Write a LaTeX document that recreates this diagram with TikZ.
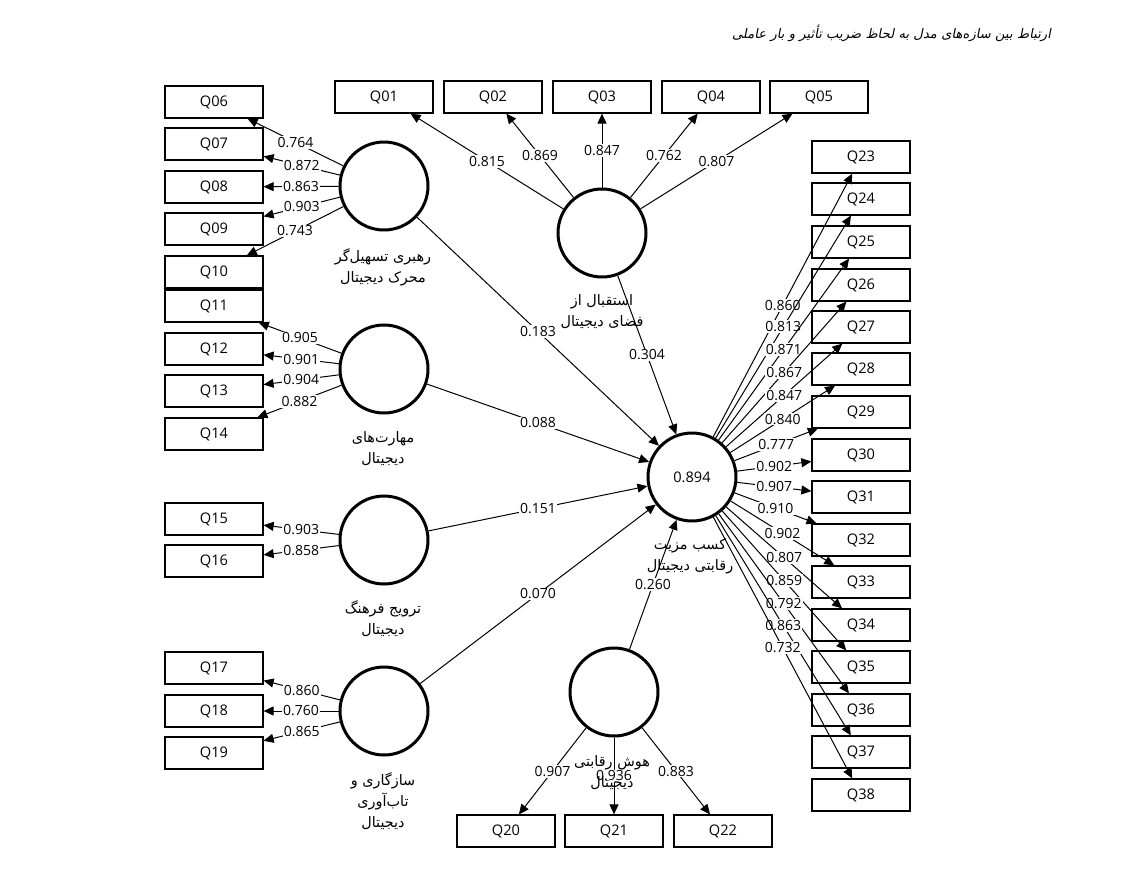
\documentclass[tikz,border=0pt]{standalone}
\usepackage{fontspec}
\setmainfont{Open Sans}
\newfontfamily\fafont[Script=Arabic]{DejaVu Sans}
\newfontfamily\titlefont[Script=Arabic,FakeSlant=0.2]{DejaVu Sans}
\TeXXeTstate=1
\usetikzlibrary{arrows.meta, positioning}

\newcommand{\fatext}[1]{\beginR #1\endR}

\tikzset{
  ind/.style={draw, line width=0.6pt, minimum width=49pt, minimum height=16pt, inner sep=0pt, font=\fontsize{7.3}{9}\selectfont},
  lat/.style={circle, draw, line width=1.5pt, minimum size=44pt, inner sep=0pt, font=\fontsize{7.3}{9}\selectfont},
  lbl/.style={align=center, font=\fafont\fontsize{7.2}{10.5}\selectfont},
  val/.style={fill=white, inner sep=0.6pt, font=\fontsize{7}{8}\selectfont},
}

\begin{document}
\begin{tikzpicture}[x=0.5pt, y=-0.5pt, >={Triangle[length=5pt,width=4.5pt]}]
    \useasboundingbox (0,0) rectangle (1140,868);

    \node (title) [anchor=east, font=\titlefont\fontsize{6.6}{8}\selectfont] at (1058,33) {\fatext{ارتباط بین سازه‌های مدل به لحاظ ضریب تأثیر و بار عاملی}};

    % constructs
    \node (lead) [lat] at (384,186) {};
    \node (recv) [lat] at (602,233) {};
    \node (skill) [lat] at (384,369) {};
    \node (cult) [lat] at (384,540) {};
    \node (adapt) [lat] at (384,711) {};
    \node (intel) [lat] at (614,692) {};
    \node (adv) [lat] at (692,477) {0.894};

    % indicators
    \node (q01) [ind] at (384,97) {Q01};
    \node (q02) [ind] at (493,97) {Q02};
    \node (q03) [ind] at (602,97) {Q03};
    \node (q04) [ind] at (711,97) {Q04};
    \node (q05) [ind] at (819,97) {Q05};

    \node (q06) [ind] at (214,102) {Q06};
    \node (q07) [ind] at (214,144) {Q07};
    \node (q08) [ind] at (214,187) {Q08};
    \node (q09) [ind] at (214,229) {Q09};
    \node (q10) [ind] at (214,272) {Q10};
    \node (q11) [ind] at (214,306) {Q11};
    \node (q12) [ind] at (214,349) {Q12};
    \node (q13) [ind] at (214,391) {Q13};
    \node (q14) [ind] at (214,434) {Q14};
    \node (q15) [ind] at (214,519) {Q15};
    \node (q16) [ind] at (214,561) {Q16};
    \node (q17) [ind] at (214,668) {Q17};
    \node (q18) [ind] at (214,711) {Q18};
    \node (q19) [ind] at (214,753) {Q19};

    \node (q20) [ind] at (506,831) {Q20};
    \node (q21) [ind] at (614,831) {Q21};
    \node (q22) [ind] at (723,831) {Q22};

    \node (q23) [ind] at (861,157) {Q23};
    \node (q24) [ind] at (861,199) {Q24};
    \node (q25) [ind] at (861,242) {Q25};
    \node (q26) [ind] at (861,285) {Q26};
    \node (q27) [ind] at (861,327) {Q27};
    \node (q28) [ind] at (861,369) {Q28};
    \node (q29) [ind] at (861,412) {Q29};
    \node (q30) [ind] at (861,455) {Q30};
    \node (q31) [ind] at (861,497) {Q31};
    \node (q32) [ind] at (861,540) {Q32};
    \node (q33) [ind] at (861,582) {Q33};
    \node (q34) [ind] at (861,625) {Q34};
    \node (q35) [ind] at (861,667) {Q35};
    \node (q36) [ind] at (861,710) {Q36};
    \node (q37) [ind] at (861,752) {Q37};
    \node (q38) [ind] at (861,795) {Q38};

    \path [->, line width=0.5pt]
        (recv) edge node[val] {0.815} (q01)
        (recv) edge node[val] {0.869} (q02)
        (recv) edge node[val] {0.847} (q03)
        (recv) edge node[val] {0.762} (q04)
        (recv) edge node[val] {0.807} (q05)

        (lead) edge node[val] {0.764} (q06)
        (lead) edge node[val] {0.872} (q07)
        (lead) edge node[val] {0.863} (q08)
        (lead) edge node[val] {0.903} (q09)
        (lead) edge node[val] {0.743} (q10)

        (skill) edge node[val] {0.905} (q11)
        (skill) edge node[val] {0.901} (q12)
        (skill) edge node[val] {0.904} (q13)
        (skill) edge node[val] {0.882} (q14)

        (cult) edge node[val] {0.903} (q15)
        (cult) edge node[val] {0.858} (q16)

        (adapt) edge node[val] {0.860} (q17)
        (adapt) edge node[val] {0.760} (q18)
        (adapt) edge node[val] {0.865} (q19)

        (intel) edge node[val] {0.907} (q20)
        (intel) edge node[val] {0.936} (q21)
        (intel) edge node[val] {0.883} (q22)

        (adv) edge node[val] {0.860} (q23)
        (adv) edge node[val] {0.813} (q24)
        (adv) edge node[val] {0.871} (q25)
        (adv) edge node[val] {0.867} (q26)
        (adv) edge node[val] {0.847} (q27)
        (adv) edge node[val] {0.840} (q28)
        (adv) edge node[val] {0.777} (q29)
        (adv) edge node[val] {0.902} (q30)
        (adv) edge node[val] {0.907} (q31)
        (adv) edge node[val] {0.910} (q32)
        (adv) edge node[val] {0.902} (q33)
        (adv) edge node[val] {0.807} (q34)
        (adv) edge node[val] {0.859} (q35)
        (adv) edge node[val] {0.792} (q36)
        (adv) edge node[val] {0.863} (q37)
        (adv) edge node[val] {0.732} (q38)

        % paths to the outcome
        (lead) edge node[val] {0.183} (adv)
        (recv) edge node[val] {0.304} (adv)
        (skill) edge node[val] {0.088} (adv)
        (cult) edge node[val] {0.151} (adv)
        (adapt) edge node[val] {0.070} (adv)
        (intel) edge node[val] {0.260} (adv)
        ;

    % construct names
    \node (leadl) [lbl] at (383,267) {\fatext{رهبری تسهیل‌گر}\\\fatext{محرک دیجیتال}};
    \node (recvl) [lbl] at (602,312) {\fatext{استقبال از}\\\fatext{فضای دیجیتال}};
    \node (skilll) [lbl] at (383,449) {\fatext{مهارت‌های}\\\fatext{دیجیتال}};
    \node (cultl) [lbl] at (383,619) {\fatext{ترویج فرهنگ}\\\fatext{دیجیتال}};
    \node (adaptl) [lbl] at (383,801) {\fatext{سازگاری و}\\\fatext{تاب‌آوری}\\\fatext{دیجیتال}};
    \node (intell) [lbl] at (612,773) {\fatext{هوش رقابتی}\\\fatext{دیجیتال}};
    \node (advl) [lbl] at (690,556) {\fatext{کسب مزیت}\\\fatext{رقابتی دیجیتال}};
\end{tikzpicture}
\end{document}
